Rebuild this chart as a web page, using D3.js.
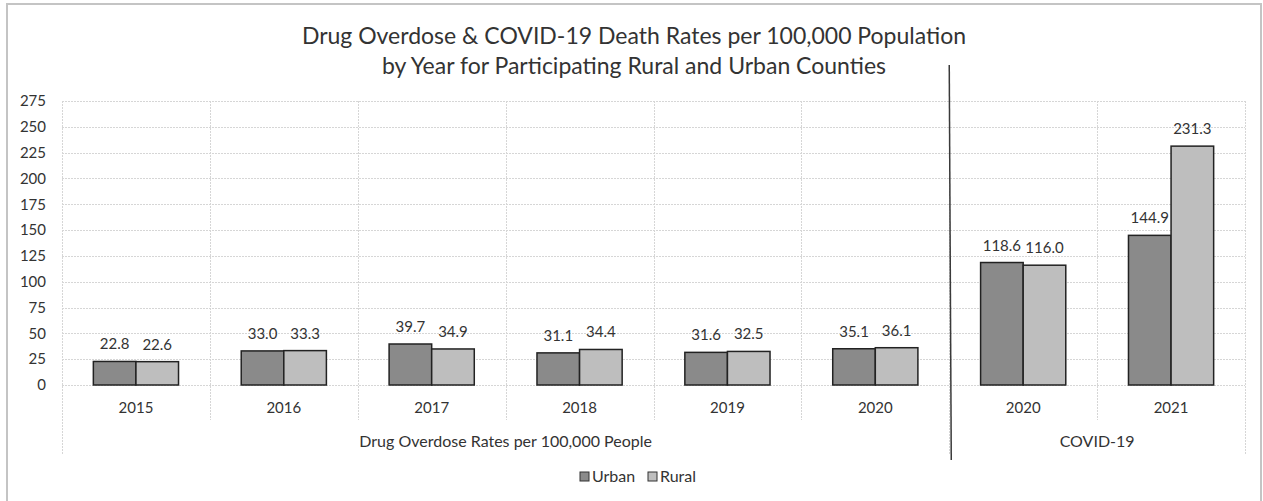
<!DOCTYPE html>
<html>
<head>
<meta charset="utf-8">
<script src="https://cdn.jsdelivr.net/npm/d3@7"></script>
<style>
  body { margin: 0; background: #fff; }
  svg text { font-family: Lato, "Open Sans", sans-serif; fill: #333; }
</style>
</head>
<body>
<svg id="chart" width="1263" height="501"></svg>
<script>
// ------ data
var categories = ["2015", "2016", "2017", "2018", "2019", "2020", "2020", "2021"];
var groupNames = ["Drug Overdose Rates per 100,000 People", "COVID-19"];
var groupSizes = [6, 2];
var seriesNames = ["Urban", "Rural"];
var urbanValues = [22.8, 33.0, 39.7, 31.1, 31.6, 35.1, 118.6, 144.9];
var ruralValues = [22.6, 33.3, 34.9, 34.4, 32.5, 36.1, 116.0, 231.3];
var yTicks = [0, 25, 50, 75, 100, 125, 150, 175, 200, 225, 250, 275];
var titleLines = ["Drug Overdose & COVID-19 Death Rates per 100,000 Population",
                  "by Year for Participating Rural and Urban Counties"];

var colors = {Urban: "#8a8a8a", Rural: "#bebebe"};

// ------ layout
var plot = {left: 62, right: 1245, top: 101, bottom: 385};
var svg = d3.select("#chart");

// frame
svg.append("rect")
  .attr("x", 7).attr("y", 4).attr("width", 1254).attr("height", 500)
  .attr("fill", "#fff").attr("stroke", "#c4c4c4").attr("stroke-width", 2);

var keys = categories.map(function(c, i) { return i; });
var x0 = d3.scaleBand().domain(keys).range([plot.left, plot.right]).padding(0);
var bw = x0.bandwidth();
var barW = bw * 0.288;
var x1 = d3.scaleBand().domain(seriesNames).range([bw / 2 - barW, bw / 2 + barW]).padding(0);
var y = d3.scaleLinear().domain([0, 275]).range([plot.bottom, plot.top]);

// gridlines horizontal
svg.append("g").selectAll("line").data(yTicks).enter().append("line")
  .attr("x1", plot.left).attr("x2", plot.right)
  .attr("y1", function(d) { return Math.round(y(d)) + 0.5; })
  .attr("y2", function(d) { return Math.round(y(d)) + 0.5; })
  .attr("stroke", "#d6d6d6").attr("stroke-dasharray", "2,1");

// vertical category lines (also act as axis ticks downwards)
var groupEdges = [0];
groupSizes.forEach(function(n, i) { groupEdges.push(groupEdges[i] + n); });
var vlines = d3.range(categories.length + 1);
svg.append("g").selectAll("line").data(vlines).enter().append("line")
  .attr("x1", function(i) { return Math.round(plot.left + i * bw) + 0.5; })
  .attr("x2", function(i) { return Math.round(plot.left + i * bw) + 0.5; })
  .attr("y1", plot.top)
  .attr("y2", function(i) {
    if (i === 0 || i === categories.length) return 455;
    return groupEdges.indexOf(i) >= 0 ? 455 : 420;
  })
  .attr("stroke", "#d6d6d6").attr("stroke-dasharray", "2,1");

// y tick labels
var yAxis = d3.axisLeft(y).tickValues(yTicks).tickSize(0).tickPadding(0);
var gy = svg.append("g").attr("transform", "translate(46,0)").call(yAxis);
gy.select(".domain").remove();
gy.selectAll("text").attr("font-size", 15).attr("font-family", "Lato, sans-serif").attr("fill", "#333");

// bars
var rows = categories.map(function(c, i) {
  return {key: i, cat: c, Urban: urbanValues[i], Rural: ruralValues[i]};
});
var grp = svg.append("g").selectAll("g").data(rows).enter().append("g")
  .attr("transform", function(d) { return "translate(" + x0(d.key) + ",0)"; });

grp.selectAll("rect").data(function(d) {
  return seriesNames.map(function(s) { return {s: s, v: d[s]}; });
}).enter().append("rect")
  .attr("x", function(d) { return x1(d.s); })
  .attr("y", function(d) { return y(d.v); })
  .attr("width", x1.bandwidth())
  .attr("height", function(d) { return y(0) - y(d.v); })
  .attr("fill", function(d) { return colors[d.s]; })
  .attr("stroke", "#222").attr("stroke-width", 1.5);

// value labels
grp.selectAll("text.val").data(function(d) {
  return seriesNames.map(function(s) { return {s: s, v: d[s]}; });
}).enter().append("text")
  .attr("class", "val")
  .attr("x", function(d) { return x1(d.s) + x1.bandwidth() / 2; })
  .attr("y", function(d) { return y(d.v) - 12; })
  .attr("text-anchor", "middle").attr("font-size", 15)
  .text(function(d) { return d.v.toFixed(1); });

// category labels
svg.append("g").selectAll("text").data(rows).enter().append("text")
  .attr("x", function(d) { return x0(d.key) + bw / 2; })
  .attr("y", 413)
  .attr("text-anchor", "middle").attr("font-size", 15)
  .text(function(d) { return d.cat; });

// group labels
svg.append("g").selectAll("text").data(groupNames).enter().append("text")
  .attr("x", function(d, i) { return plot.left + (groupEdges[i] + groupEdges[i + 1]) / 2 * bw; })
  .attr("y", 447)
  .attr("text-anchor", "middle").attr("font-size", 16)
  .text(function(d) { return d; });

// divider between the two groups
var divX = plot.left + groupEdges[1] * bw;
svg.append("line")
  .attr("x1", divX).attr("y1", 65).attr("x2", divX + 2).attr("y2", 460)
  .attr("stroke", "#3a3a3a").attr("stroke-width", 1.5);

// title
svg.append("g").selectAll("text").data(titleLines).enter().append("text")
  .attr("x", 634)
  .attr("y", function(d, i) { return 44 + i * 30; })
  .attr("text-anchor", "middle").attr("font-size", 23)
  .text(function(d) { return d; });

// legend
var legend = svg.append("g").attr("transform", "translate(580,0)");
var lg = legend.selectAll("g").data(seriesNames).enter().append("g")
  .attr("transform", function(d, i) { return "translate(" + (i * 68) + ",0)"; });
lg.append("rect")
  .attr("x", 0).attr("y", 472).attr("width", 9).attr("height", 9)
  .attr("fill", function(d) { return colors[d]; })
  .attr("stroke", "#333").attr("stroke-width", 1);
lg.append("text")
  .attr("x", 12).attr("y", 482)
  .attr("font-size", 16)
  .text(function(d) { return d; });
</script>
</body>
</html>
